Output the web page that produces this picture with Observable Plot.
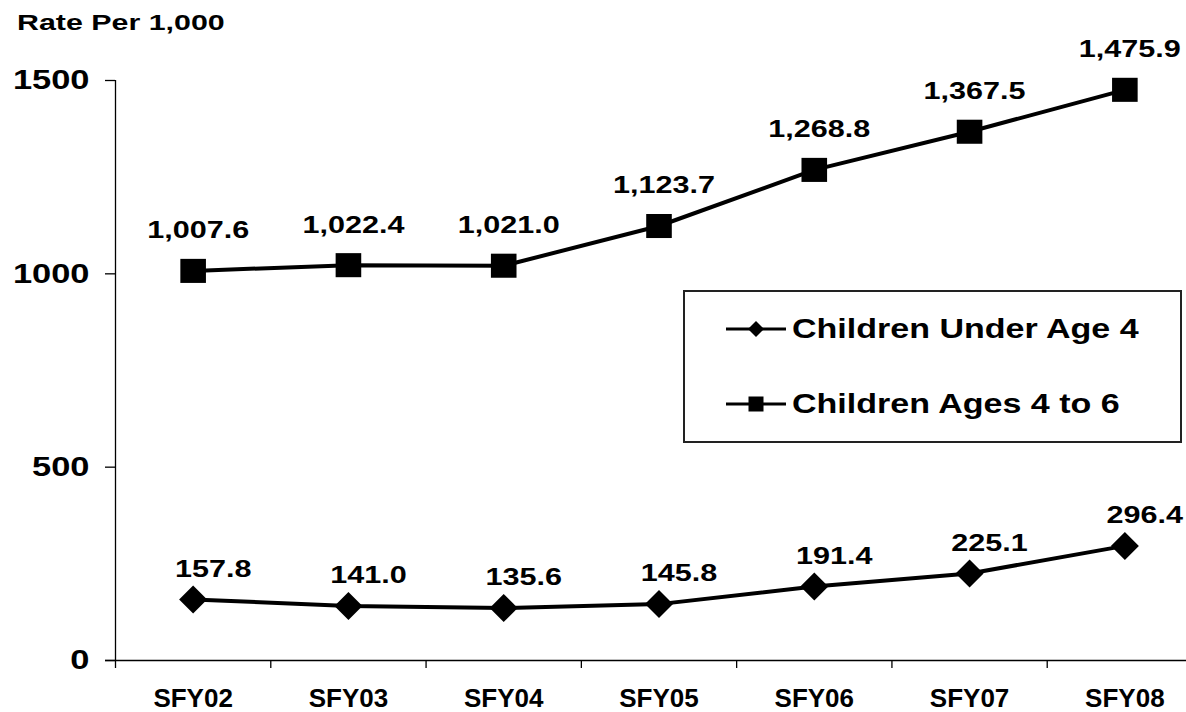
<!DOCTYPE html>
<html>
<head>
<meta charset="utf-8">
<script src="https://cdn.jsdelivr.net/npm/d3@7"></script>
<script src="https://cdn.jsdelivr.net/npm/@observablehq/plot@0.6"></script>
<style>
  html, body { margin: 0; padding: 0; background: #fff; }
  #wrap { position: relative; width: 1186px; height: 712px; overflow: hidden; font-family: "Liberation Sans", Arial, sans-serif; color: #000; }
  #title { height: 44px; line-height: 46px; padding-left: 17px; font-size: 22.5px; font-weight: bold; white-space: nowrap; }
  #title span { display: inline-block; transform: scaleX(1.35); transform-origin: left center; }
  #legend { position: absolute; left: 683px; top: 290px; width: 499px; height: 153px; box-sizing: border-box; border: 2px solid #222; background: #fff; }
  .item { position: absolute; left: 41px; height: 30px; display: flex; align-items: center; white-space: nowrap; }
  .item svg { display: block; }
  .item .lab { margin-left: 6px; font-size: 27px; font-weight: bold; line-height: 30px; display: inline-block; transform: scaleX(1.26); transform-origin: left center; }
</style>
</head>
<body>
<div id="wrap">
  <div id="title"><span>Rate Per 1,000</span></div>
  <div id="chart"></div>
  <div id="legend"></div>
</div>
<script>
// ---- data ----
const categories = ["SFY02", "SFY03", "SFY04", "SFY05", "SFY06", "SFY07", "SFY08"];
const under4 = [157.8, 141.0, 135.6, 145.8, 191.4, 225.1, 296.4];
const ages4to6 = [1007.6, 1022.4, 1021.0, 1123.7, 1268.8, 1367.5, 1475.9];
const yTicks = [0, 500, 1000, 1500];
const seriesNames = ["Children Under Age 4", "Children Ages 4 to 6"];

// ---- build table ----
const rowsUnder = categories.map((c, i) => ({i, cat: c, v: under4[i]}));
const rowsAges = categories.map((c, i) => ({i, cat: c, v: ages4to6[i]}));
const fmt = d3.format(",.1f");

// custom symbols: r = sqrt(size/PI)
const squareSym = {draw(ctx, size) { const r = Math.sqrt(size / Math.PI); ctx.rect(-r, -r * 0.94, 2 * r, 2 * r * 0.94); }};
const diamondSym = {draw(ctx, size) { const r = Math.sqrt(size / Math.PI); ctx.moveTo(0, -r); ctx.lineTo(r, 0); ctx.lineTo(0, r); ctx.lineTo(-r, 0); ctx.closePath(); }};

const bounds = d3.range(categories.length).map(i => i - 0.5);

const chart = Plot.plot({
  width: 1186,
  height: 668,
  marginTop: 36,
  marginBottom: 52,
  marginLeft: 115,
  marginRight: 0,
  style: {fontFamily: "'Liberation Sans', Arial, sans-serif", color: "#000", background: "#fff", overflow: "visible"},
  x: {type: "linear", domain: [-0.5, categories.length - 0.5], range: [115, 1202], label: null},
  y: {domain: [0, 1500], range: [616, 36], label: null},
  marks: [
    // y axis line
    Plot.ruleX([-0.5], {y1: 0, y2: 1500, stroke: "#000", strokeWidth: 1.3}),
    // x axis line
    Plot.ruleY([0], {stroke: "#000", strokeWidth: 1.3, insetLeft: -10}),
    // x boundary ticks
    Plot.axisX({ticks: bounds, tickSize: 8, tickFormat: () => "", label: null, strokeWidth: 1.3}),
    // x labels
    Plot.axisX({ticks: d3.range(categories.length), tickSize: 0, tickPadding: 28, tickFormat: i => categories[i], label: null, fontSize: 26, fontWeight: "bold"}),
    // y axis
    Plot.axisY({ticks: yTicks, tickSize: 10, tickPadding: 16, tickFormat: d3.format("d"), label: null, fontSize: 28, fontWeight: "bold", strokeWidth: 1.3}),
    // lines
    Plot.line(rowsAges, {x: "i", y: "v", stroke: "#000", strokeWidth: 4}),
    Plot.line(rowsUnder, {x: "i", y: "v", stroke: "#000", strokeWidth: 4}),
    // markers
    Plot.dot(rowsAges, {x: "i", y: "v", r: 12.8, symbol: squareSym, fill: "#000", stroke: "none"}),
    Plot.dot(rowsUnder, {x: "i", y: "v", r: 14, symbol: diamondSym, fill: "#000", stroke: "none"}),
    // data labels
    Plot.text(rowsAges, {x: "i", y: "v", text: d => fmt(d.v), dy: -40, dx: 5, fontSize: 23, fontWeight: "bold", fill: "#000"}),
    Plot.text(rowsUnder, {x: "i", y: "v", text: d => fmt(d.v), dy: -30, dx: 20, fontSize: 23, fontWeight: "bold", fill: "#000"})
  ]
});
document.getElementById("chart").appendChild(chart);

// horizontal stretch of the bold text (reference glyphs are wide)
function stretch(selector, s) {
  chart.querySelectorAll(selector).forEach(t => {
    const tr = t.getAttribute("transform") || "";
    t.setAttribute("transform", tr + ` scale(${s},1)`);
  });
}
stretch('g[aria-label="text"] text', 1.33);
stretch('g[aria-label="y-axis tick label"] text', 1.23);

// ---- legend ----
const legend = d3.select("#legend");
const legendItems = [
  {name: seriesNames[0], sym: "diamond", top: 22},
  {name: seriesNames[1], sym: "square", top: 97}
];
legendItems.forEach(it => {
  const row = legend.append("div").attr("class", "item").style("top", it.top + "px");
  const sw = row.append("svg").attr("width", 60).attr("height", 30);
  sw.append("line").attr("x1", 0).attr("x2", 60).attr("y1", 15).attr("y2", 15).attr("stroke", "#000").attr("stroke-width", 3);
  if (it.sym === "diamond") {
    sw.append("path").attr("d", "M30,7L38,15L30,23L22,15Z").attr("fill", "#000");
  } else {
    sw.append("rect").attr("x", 22.5).attr("y", 7.5).attr("width", 15).attr("height", 15).attr("fill", "#000");
  }
  row.append("span").attr("class", "lab").text(it.name);
});
</script>
</body>
</html>
